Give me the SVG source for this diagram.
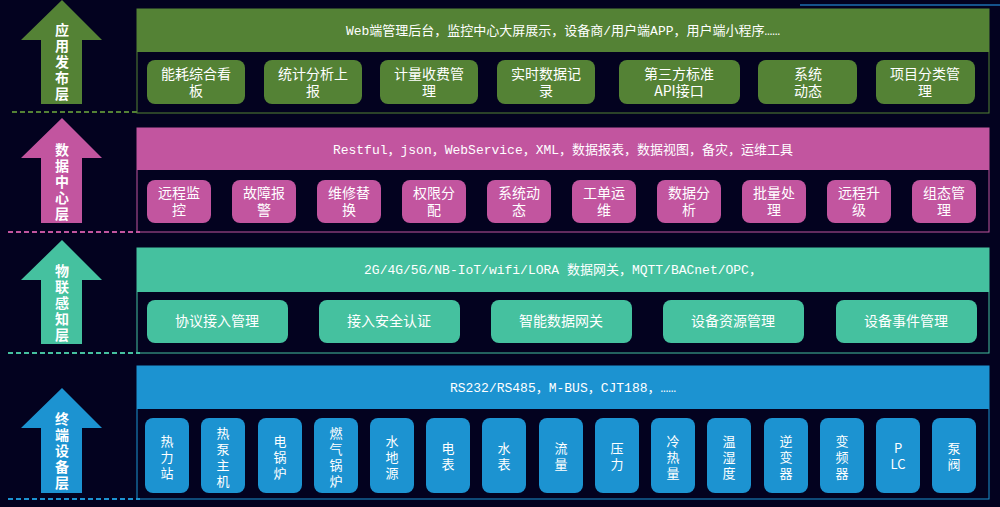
<svg xmlns="http://www.w3.org/2000/svg" width="1000" height="507" viewBox="0 0 1000 507">
<style>
text{font-family:"Noto Sans CJK SC","Noto Sans",sans-serif;fill:#fff;text-anchor:middle}
.h{font-family:"Liberation Mono","Noto Sans CJK SC",monospace;font-size:13px}
.b{font-size:14px}
.v text{font-size:13px}
.a{font-size:14px;font-weight:bold}
.g{fill:#548235}.p{fill:#c2559f}.t{fill:#45c19f}.u{fill:#1c93d1}
.dash{stroke-width:2;stroke-dasharray:5,3;fill:none}
</style>
<rect width="1000" height="507" fill="#03021f"/>
<line x1="800" y1="5" x2="1000" y2="5" stroke="#1c6fb0" stroke-width="1.5"/>
<g id="layer-app">
<polygon class="g" points="62,0 102,40 82,40 82,104 41,104 41,40 21,40"/>
<text class="a"><tspan x="62" y="35">应</tspan><tspan x="62" y="51">用</tspan><tspan x="62" y="67">发</tspan><tspan x="62" y="83">布</tspan><tspan x="62" y="99">层</tspan></text>
<line class="dash" x1="12" y1="112" x2="140" y2="112" stroke="#548235"/>
<rect x="137" y="9" width="852" height="104" fill="none" stroke="#548235"/>
<rect class="g" x="137" y="9" width="852" height="43"/>
<text class="h" x="563" y="35">Web端管理后台，监控中心大屏展示，设备商/用户端APP，用户端小程序……</text>
<rect class="g" x="147" y="60" width="98" height="44" rx="8"/><text class="b"><tspan x="196" y="79">能耗综合看</tspan><tspan x="196" y="96">板</tspan></text>
<rect class="g" x="264" y="60" width="98" height="44" rx="8"/><text class="b"><tspan x="313" y="79">统计分析上</tspan><tspan x="313" y="96">报</tspan></text>
<rect class="g" x="380" y="60" width="98" height="44" rx="8"/><text class="b"><tspan x="429" y="79">计量收费管</tspan><tspan x="429" y="96">理</tspan></text>
<rect class="g" x="497" y="60" width="98" height="44" rx="8"/><text class="b"><tspan x="546" y="79">实时数据记</tspan><tspan x="546" y="96">录</tspan></text>
<rect class="g" x="619" y="60" width="121" height="44" rx="8"/><text class="b"><tspan x="679" y="79">第三方标准</tspan><tspan x="679" y="96">API接口</tspan></text>
<rect class="g" x="758" y="60" width="99" height="44" rx="8"/><text class="b"><tspan x="808" y="79">系统</tspan><tspan x="808" y="96">动态</tspan></text>
<rect class="g" x="876" y="60" width="99" height="44" rx="8"/><text class="b"><tspan x="925" y="79">项目分类管</tspan><tspan x="925" y="96">理</tspan></text>
</g>
<g id="layer-data">
<polygon class="p" points="62,118 102,158 82,158 82,223 41,223 41,158 21,158"/>
<text class="a"><tspan x="62" y="155">数</tspan><tspan x="62" y="171">据</tspan><tspan x="62" y="187">中</tspan><tspan x="62" y="203">心</tspan><tspan x="62" y="219">层</tspan></text>
<line class="dash" x1="8" y1="232" x2="140" y2="232" stroke="#c2559f"/>
<rect x="137" y="128" width="852" height="104" fill="none" stroke="#c2559f"/>
<rect class="p" x="137" y="128" width="852" height="42"/>
<text class="h" x="563" y="154">Restful，json，WebService，XML，数据报表，数据视图，备灾，运维工具</text>
<rect class="p" x="147" y="180" width="64" height="43" rx="8"/><text class="b"><tspan x="179" y="198">远程监</tspan><tspan x="179" y="215">控</tspan></text>
<rect class="p" x="232" y="180" width="64" height="43" rx="8"/><text class="b"><tspan x="264" y="198">故障报</tspan><tspan x="264" y="215">警</tspan></text>
<rect class="p" x="317" y="180" width="64" height="43" rx="8"/><text class="b"><tspan x="349" y="198">维修替</tspan><tspan x="349" y="215">换</tspan></text>
<rect class="p" x="402" y="180" width="64" height="43" rx="8"/><text class="b"><tspan x="434" y="198">权限分</tspan><tspan x="434" y="215">配</tspan></text>
<rect class="p" x="487" y="180" width="64" height="43" rx="8"/><text class="b"><tspan x="519" y="198">系统动</tspan><tspan x="519" y="215">态</tspan></text>
<rect class="p" x="572" y="180" width="64" height="43" rx="8"/><text class="b"><tspan x="604" y="198">工单运</tspan><tspan x="604" y="215">维</tspan></text>
<rect class="p" x="657" y="180" width="64" height="43" rx="8"/><text class="b"><tspan x="689" y="198">数据分</tspan><tspan x="689" y="215">析</tspan></text>
<rect class="p" x="742" y="180" width="64" height="43" rx="8"/><text class="b"><tspan x="774" y="198">批量处</tspan><tspan x="774" y="215">理</tspan></text>
<rect class="p" x="827" y="180" width="64" height="43" rx="8"/><text class="b"><tspan x="859" y="198">远程升</tspan><tspan x="859" y="215">级</tspan></text>
<rect class="p" x="912" y="180" width="64" height="43" rx="8"/><text class="b"><tspan x="944" y="198">组态管</tspan><tspan x="944" y="215">理</tspan></text>
</g>
<g id="layer-iot">
<polygon class="t" points="62,240 102,280 82,280 82,344 41,344 41,280 21,280"/>
<text class="a"><tspan x="62" y="276">物</tspan><tspan x="62" y="292">联</tspan><tspan x="62" y="308">感</tspan><tspan x="62" y="324">知</tspan><tspan x="62" y="340">层</tspan></text>
<line class="dash" x1="8" y1="353" x2="140" y2="353" stroke="#45c19f"/>
<rect x="137" y="248" width="852" height="105" fill="none" stroke="#45c19f"/>
<rect class="t" x="137" y="248" width="852" height="44"/>
<text class="h" x="563" y="274">2G/4G/5G/NB-IoT/wifi/LORA 数据网关，MQTT/BACnet/OPC，</text>
<rect class="t" x="147" y="300" width="141" height="43" rx="8"/><text class="b" x="217" y="326">协议接入管理</text>
<rect class="t" x="319" y="300" width="141" height="43" rx="8"/><text class="b" x="389" y="326">接入安全认证</text>
<rect class="t" x="491" y="300" width="141" height="43" rx="8"/><text class="b" x="561" y="326">智能数据网关</text>
<rect class="t" x="663" y="300" width="141" height="43" rx="8"/><text class="b" x="733" y="326">设备资源管理</text>
<rect class="t" x="836" y="300" width="141" height="43" rx="8"/><text class="b" x="906" y="326">设备事件管理</text>
</g>
<g id="layer-device">
<polygon class="u" points="62,388 102,428 82,428 82,493 41,493 41,428 21,428"/>
<text class="a"><tspan x="62" y="424">终</tspan><tspan x="62" y="440">端</tspan><tspan x="62" y="456">设</tspan><tspan x="62" y="472">备</tspan><tspan x="62" y="488">层</tspan></text>
<line class="dash" x1="8" y1="499" x2="140" y2="499" stroke="#1c93d1"/>
<rect x="137" y="366" width="852" height="133" fill="none" stroke="#1c93d1"/>
<rect class="u" x="137" y="366" width="852" height="43"/>
<text class="h" x="563" y="392">RS232/RS485，M-BUS，CJT188，……</text>
<g class="v">
<rect class="u" x="145" y="418" width="44" height="75" rx="8"/><text><tspan x="167" y="446">热</tspan><tspan x="167" y="462">力</tspan><tspan x="167" y="478">站</tspan></text>
<rect class="u" x="201" y="418" width="44" height="75" rx="8"/><text><tspan x="223" y="438">热</tspan><tspan x="223" y="454">泵</tspan><tspan x="223" y="470">主</tspan><tspan x="223" y="486">机</tspan></text>
<rect class="u" x="258" y="418" width="44" height="75" rx="8"/><text><tspan x="280" y="446">电</tspan><tspan x="280" y="462">锅</tspan><tspan x="280" y="478">炉</tspan></text>
<rect class="u" x="314" y="418" width="44" height="75" rx="8"/><text><tspan x="336" y="438">燃</tspan><tspan x="336" y="454">气</tspan><tspan x="336" y="470">锅</tspan><tspan x="336" y="486">炉</tspan></text>
<rect class="u" x="370" y="418" width="44" height="75" rx="8"/><text><tspan x="392" y="446">水</tspan><tspan x="392" y="462">地</tspan><tspan x="392" y="478">源</tspan></text>
<rect class="u" x="426" y="418" width="44" height="75" rx="8"/><text><tspan x="448" y="453">电</tspan><tspan x="448" y="469">表</tspan></text>
<rect class="u" x="482" y="418" width="44" height="75" rx="8"/><text><tspan x="504" y="453">水</tspan><tspan x="504" y="469">表</tspan></text>
<rect class="u" x="539" y="418" width="44" height="75" rx="8"/><text><tspan x="561" y="453">流</tspan><tspan x="561" y="469">量</tspan></text>
<rect class="u" x="595" y="418" width="44" height="75" rx="8"/><text><tspan x="617" y="453">压</tspan><tspan x="617" y="469">力</tspan></text>
<rect class="u" x="651" y="418" width="44" height="75" rx="8"/><text><tspan x="673" y="446">冷</tspan><tspan x="673" y="462">热</tspan><tspan x="673" y="478">量</tspan></text>
<rect class="u" x="707" y="418" width="44" height="75" rx="8"/><text><tspan x="729" y="446">温</tspan><tspan x="729" y="462">湿</tspan><tspan x="729" y="478">度</tspan></text>
<rect class="u" x="764" y="418" width="44" height="75" rx="8"/><text><tspan x="786" y="446">逆</tspan><tspan x="786" y="462">变</tspan><tspan x="786" y="478">器</tspan></text>
<rect class="u" x="820" y="418" width="44" height="75" rx="8"/><text><tspan x="842" y="446">变</tspan><tspan x="842" y="462">频</tspan><tspan x="842" y="478">器</tspan></text>
<rect class="u" x="876" y="418" width="44" height="75" rx="8"/><text><tspan x="898" y="453">P</tspan><tspan x="898" y="469">LC</tspan></text>
<rect class="u" x="932" y="418" width="44" height="75" rx="8"/><text><tspan x="954" y="453">泵</tspan><tspan x="954" y="469">阀</tspan></text>
</g>
</g>
<g id="connectors"/>
</svg>
